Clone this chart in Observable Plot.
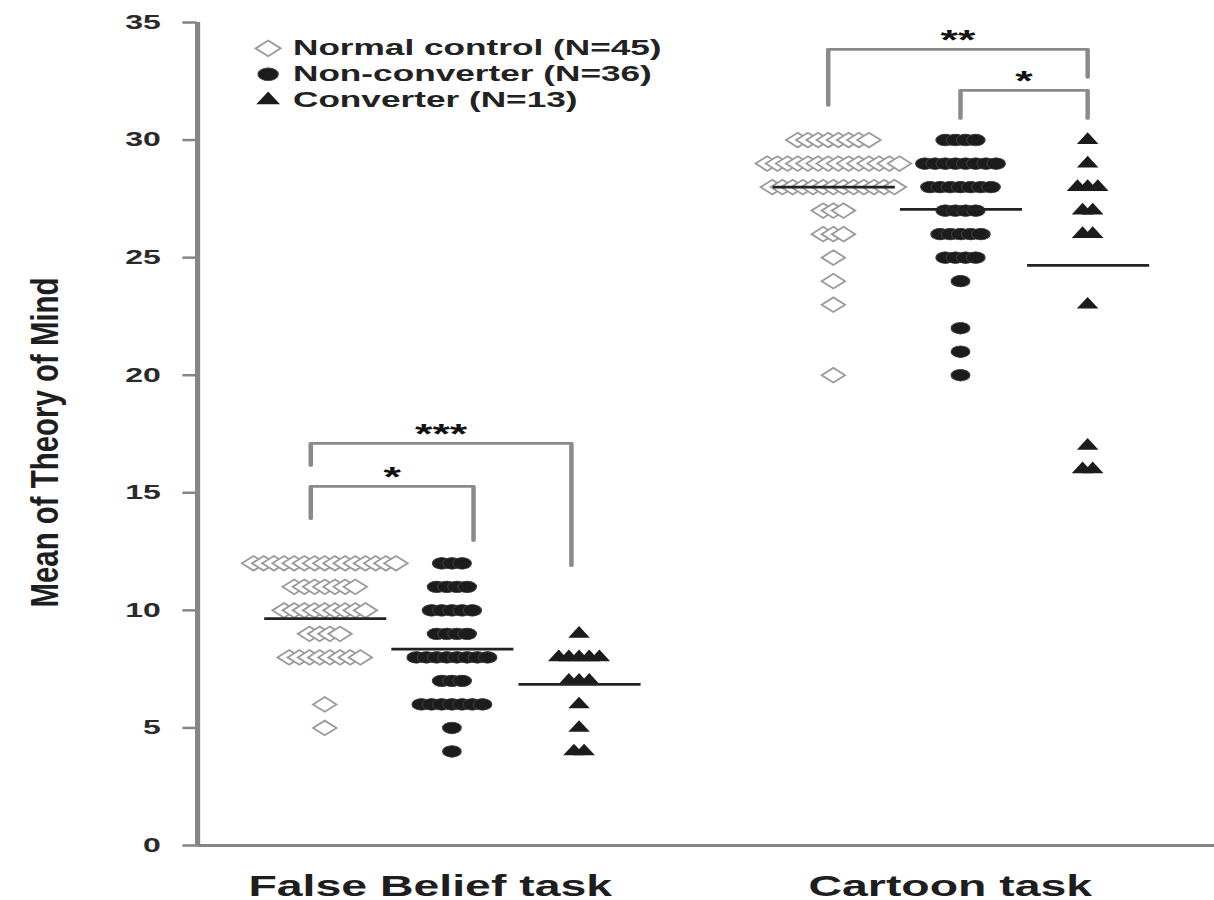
<!DOCTYPE html>
<html>
<head>
<meta charset="utf-8">
<script src="https://cdn.jsdelivr.net/npm/d3@7"></script>
<script src="https://cdn.jsdelivr.net/npm/@observablehq/plot@0.6"></script>
<style>
  body { margin: 0; background: #fff; }
  #chart svg { display: block; }
</style>
</head>
<body>
<div id="chart"></div>
<script>
// ---------- data ----------
const tasks = ["False Belief task", "Cartoon task"];
const groups = ["Normal control (N=45)", "Non-converter (N=36)", "Converter (N=13)"];
const yTitle = "Mean of Theory of Mind";
const yTicks = [0, 5, 10, 15, 20, 25, 30, 35];

// individual scores: each score value and the number of subjects with it
const fbNormalScores = [12, 11, 10, 9, 8, 6, 5];
const fbNormalCounts = [15, 7, 9, 4, 8, 1, 1];
const fbNonScores = [12, 11, 10, 9, 8, 7, 6, 5, 4];
const fbNonCounts = [3, 4, 5, 4, 8, 3, 7, 1, 1];
const fbConvScores = [9, 8, 7, 6, 5, 4];
const fbConvCounts = [1, 5, 3, 1, 1, 2];

const ctNormalScores = [30, 29, 28, 27, 26, 25, 24, 23, 20];
const ctNormalCounts = [8, 14, 13, 3, 3, 1, 1, 1, 1];
const ctNonScores = [30, 29, 28, 27, 26, 25, 24, 22, 21, 20];
const ctNonCounts = [4, 8, 7, 4, 5, 4, 1, 1, 1, 1];
const ctConvScores = [30, 29, 28, 27, 26, 23, 17, 16];
const ctConvCounts = [1, 1, 3, 2, 2, 1, 1, 2];

// group means (horizontal bars)
const fbMeans = [9.65, 8.35, 6.85];
const ctMeans = [28.0, 27.05, 24.67];

// significance brackets (x in group-slot units, y in score units)
const bracketLabels = ["***", "*", "**", "*"];
const bracketX1 = [-0.11, -0.11, 3.96, 5.0];
const bracketX2 = [1.94, 1.17, 6.0, 6.0];
const bracketTop = [17.1, 15.27, 33.86, 32.11];
const bracketLeftEnd = [16.16, 13.9, 31.48, 30.92];
const bracketRightEnd = [11.9, 12.97, 32.67, 30.92];

// ---------- layout / style ----------
const W = 1214, H = 900, S = 1.6;           // picture is horizontally stretched
const plotW = W / S;
const slotsPerTask = 4;                     // 3 groups + 1 gap
const dotStep = 0.08;                       // horizontal step between stacked markers
const taskLabelX = [0.83, 4.92];
const legendX = -0.445, legendTextX = -0.25, legendTopY = 33.9, legendStep = 1.1;
const font = "'Liberation Sans', Arial, Helvetica, sans-serif";
const groupStyle = [
  {symbol: "diamond2", fill: "white", stroke: "#9a9a9a", r: 6.6, strokeWidth: 1.5},
  {symbol: "circle", fill: "#1c1c1c", stroke: "#3a3a3a", r: 5.8, strokeWidth: 0.8},
  {symbol: "triangle", fill: "#1c1c1c", stroke: "none", r: 5, strokeWidth: 0}
];

const scoreSets = [[fbNormalScores, fbNonScores, fbConvScores], [ctNormalScores, ctNonScores, ctConvScores]];
const countSets = [[fbNormalCounts, fbNonCounts, fbConvCounts], [ctNormalCounts, ctNonCounts, ctConvCounts]];
const meanSets = [fbMeans, ctMeans];

// build point tables per group
const pointsByGroup = groups.map(() => []);
const meanRows = [];
tasks.forEach((task, t) => {
  groups.forEach((g, gi) => {
    const slot = t * slotsPerTask + gi;
    const scores = scoreSets[t][gi], counts = countSets[t][gi];
    scores.forEach((s, i) => {
      const n = counts[i];
      for (let k = 0; k < n; k++) {
        pointsByGroup[gi].push({task, group: g, score: s, x: slot + (k - (n - 1) / 2) * dotStep});
      }
    });
    meanRows.push({task, group: g, slot, mean: meanSets[t][gi]});
  });
});

const bracketPts = [];
bracketLabels.forEach((lab, i) => {
  bracketPts.push({b: i, x: bracketX1[i], y: bracketLeftEnd[i]});
  bracketPts.push({b: i, x: bracketX1[i], y: bracketTop[i]});
  bracketPts.push({b: i, x: bracketX2[i], y: bracketTop[i]});
  bracketPts.push({b: i, x: bracketX2[i], y: bracketRightEnd[i]});
});
const bracketText = bracketLabels.map((lab, i) => ({label: lab, x: (bracketX1[i] + bracketX2[i]) / 2, y: bracketTop[i]}));

const marks = [
  Plot.ruleX([-1], {stroke: "#858585", strokeWidth: 3.2}),
  Plot.ruleY([0], {stroke: "#858585", strokeWidth: 3}),
  Plot.axisY({ticks: yTicks, anchor: "left", tickSize: 9, tickPadding: 14, fontSize: 20, fontWeight: "bold",
              stroke: "#858585", strokeWidth: 2.5, fill: "#2a2a2a", label: null}),
  Plot.text([yTitle], {frameAnchor: "left", rotate: -90, dx: -95, dy: 8.5, fontSize: 24, fontWeight: "bold",
              fill: "#1e1e1e", textAnchor: "middle", lineAnchor: "middle"}),
  Plot.text(tasks, {x: (d, i) => taskLabelX[i], frameAnchor: "bottom", dy: 41, fontSize: 29, fontWeight: "bold",
              fill: "#1e1e1e", lineAnchor: "middle"}),
  Plot.line(bracketPts, {x: "x", y: "y", z: "b", stroke: "#8a8a8a", strokeWidth: 2.8, strokeLinejoin: "round", curve: "linear"}),
  Plot.text(bracketText, {x: "x", y: "y", text: "label", dy: -9.5, fontSize: 28, fontWeight: "bold", fill: "#111", lineAnchor: "middle"})
];

groups.forEach((g, gi) => {
  const st = groupStyle[gi];
  marks.push(Plot.dot(pointsByGroup[gi], {x: "x", y: "score", symbol: st.symbol, r: st.r,
    fill: st.fill, stroke: st.stroke, strokeWidth: st.strokeWidth}));
  // legend entry
  marks.push(Plot.dot([g], {x: legendX, y: legendTopY - gi * legendStep, symbol: st.symbol, r: st.r + 0.5,
    fill: st.fill, stroke: st.stroke, strokeWidth: st.strokeWidth}));
  marks.push(Plot.text([g], {x: legendTextX, y: legendTopY - gi * legendStep, text: d => d, textAnchor: "start",
    lineAnchor: "middle", fontSize: 22, fontWeight: "bold", fill: "#222"}));
});

marks.push(Plot.ruleY(meanRows, {y: "mean", x1: d => d.slot - 0.47, x2: d => d.slot + 0.49, stroke: "#222", strokeWidth: 2.8}));

const chart = Plot.plot({
  width: plotW,
  height: H,
  marginLeft: 123,
  marginRight: 0,
  marginTop: 22,
  marginBottom: 55,
  style: {fontFamily: font, background: "white", overflow: "visible"},
  x: {domain: [-1, 7], axis: null},
  y: {domain: [0, 35], axis: null},
  marks
});

// horizontally stretch the whole drawing like the reference
chart.setAttribute("width", W);
chart.setAttribute("height", H);
chart.setAttribute("preserveAspectRatio", "none");
chart.style.width = W + "px";
chart.style.height = H + "px";
chart.style.maxWidth = "none";

d3.select(chart).selectAll("text")
  .filter(function () { return this.textContent === yTitle; })
  .attr("textLength", 330)
  .attr("lengthAdjust", "spacingAndGlyphs");

document.getElementById("chart").appendChild(chart);
</script>
</body>
</html>
